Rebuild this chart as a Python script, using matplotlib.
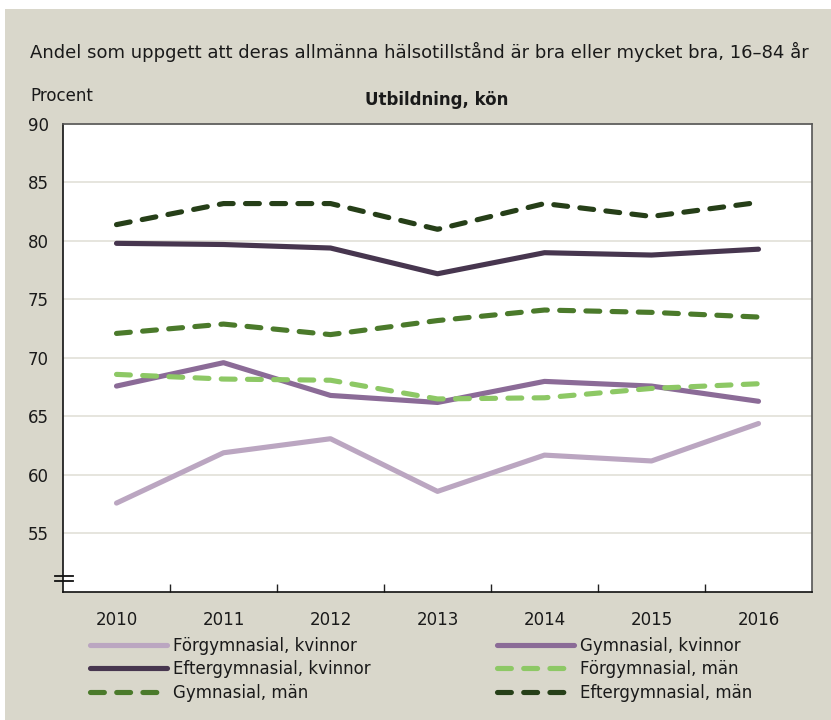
import numpy as np
import matplotlib
matplotlib.use('Agg')
import matplotlib.pyplot as plt
from matplotlib.patches import Rectangle

plt.rcParams['font.family'] = ['DejaVu Sans']

# ---- data ----
years = ['2010', '2011', '2012', '2013', '2014', '2015', '2016']
forgym_kv = [57.6, 61.9, 63.1, 58.6, 61.7, 61.2, 64.4]
gym_kv    = [67.6, 69.6, 66.8, 66.2, 68.0, 67.6, 66.3]
eftgym_kv = [79.8, 79.7, 79.4, 77.2, 79.0, 78.8, 79.3]
forgym_m  = [68.6, 68.2, 68.1, 66.5, 66.6, 67.4, 67.8]
gym_m     = [72.1, 72.9, 72.0, 73.2, 74.1, 73.9, 73.5]
eftgym_m  = [81.4, 83.2, 83.2, 81.0, 83.2, 82.1, 83.3]

series = [
    ('Förgymnasial, kvinnor',   forgym_kv, '#BBA6C1', 'solid'),
    ('Gymnasial, kvinnor',      gym_kv,    '#8B6B97', 'solid'),
    ('Eftergymnasial, kvinnor', eftgym_kv, '#47364F', 'solid'),
    ('Förgymnasial, män',       forgym_m,  '#8DC865', 'dash'),
    ('Gymnasial, män',          gym_m,     '#4B7A2B', 'dash'),
    ('Eftergymnasial, män',     eftgym_m,  '#263F18', 'dash'),
]

BG = '#D9D7CB'
W, H = 831, 720
fig = plt.figure(figsize=(W/100, H/100), dpi=100, facecolor='white')
fig.patches.append(Rectangle((5/W, 0), 1, 1 - 9/H, transform=fig.transFigure,
                             facecolor=BG, edgecolor='none', zorder=-10))

ax = fig.add_axes([63/W, 1 - 592/H, (812-63)/W, (592-124)/H])
ax.set_facecolor('white')

x = np.arange(len(years))
handles = {}
for name, vals, col, style in series:
    if style == 'solid':
        ln, = ax.plot(x, vals, color=col, lw=3.7, solid_capstyle='round',
                      solid_joinstyle='round')
    else:
        ln, = ax.plot(x, vals, color=col, lw=3.7, dash_capstyle='round',
                      dash_joinstyle='round')
        ln.set_dashes((2.7, 2.4))
    handles[name] = ln

ax.set_xlim(-0.5, len(years) - 0.5)
ax.set_ylim(50, 90)
ax.set_yticks(np.arange(55, 91, 5))
ax.yaxis.grid(True, color='#E2E0D8', lw=1.2)
ax.set_axisbelow(True)
ax.tick_params(axis='y', length=0, labelsize=12, pad=10, colors='#1A1A1A')
ax.set_xticks(x)
ax.set_xticklabels(years)
ax.tick_params(axis='x', which='major', length=0, labelsize=12, pad=14, colors='#1A1A1A')
ax.set_xticks(np.arange(0.5, len(years) - 0.5, 1), minor=True)
ax.tick_params(axis='x', which='minor', direction='in', length=6, width=1, color='#222222')

for s in ['left', 'bottom']:
    ax.spines[s].set_color('#111111')
    ax.spines[s].set_linewidth(1.2)
for s in ['top', 'right']:
    ax.spines[s].set_color('#555555')
    ax.spines[s].set_linewidth(1.2)

# axis break marker
for yv in (50.9, 51.37):
    ax.plot([-0.572, -0.405], [yv, yv], color='#111111', lw=1.3, clip_on=False)

fig.text(30/W, 1 - 52/H,
         'Andel som uppgett att deras allmänna hälsotillstånd är bra eller mycket bra, 16–84 år',
         fontsize=13, ha='left', va='center', color='#1A1A1A')
fig.text(30/W, 1 - 96/H, 'Procent', fontsize=12, ha='left', va='center', color='#1A1A1A')
fig.text(437/W, 1 - 100/H, 'Utbildning, kön', fontsize=12, fontweight='bold',
         ha='center', va='center', color='#1A1A1A')

# legend in two columns
leg_kw = dict(frameon=False, fontsize=12, handlelength=4.6, handletextpad=0.4,
              labelspacing=0.32, borderpad=0, borderaxespad=0, loc='upper left')
left = ['Förgymnasial, kvinnor', 'Eftergymnasial, kvinnor', 'Gymnasial, män']
right = ['Gymnasial, kvinnor', 'Förgymnasial, män', 'Eftergymnasial, män']
l1 = fig.legend([handles[n] for n in left], left,
                bbox_to_anchor=(90/W, 1 - 637/H), **leg_kw)
for t in l1.get_texts():
    t.set_color('#1A1A1A')
l2 = fig.legend([handles[n] for n in right], right,
                bbox_to_anchor=(497/W, 1 - 637/H), **leg_kw)
for t in l2.get_texts():
    t.set_color('#1A1A1A')

fig.savefig('out.png', dpi=100, facecolor=fig.get_facecolor())
